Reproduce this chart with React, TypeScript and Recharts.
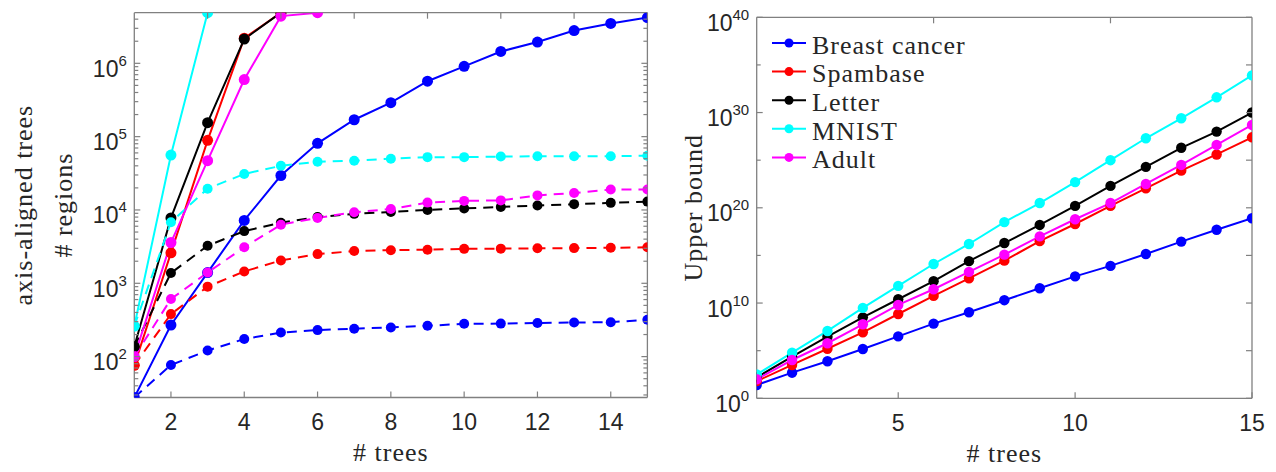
import React from 'react';
import { LineChart, Line, XAxis, YAxis, Legend } from 'recharts';

// # trees on the x axis of both panels
const trees = [1, 2, 3, 4, 5, 6, 7, 8, 9, 10, 11, 12, 13, 14, 15];

// left panel, solid lines (# regions, stops once the count blows up)
const breastSolid = [27.7, 270, 1400, 7200, 29500, 81000, 170000, 290000, 570000, 910000, 1450000, 1950000, 2800000, 3500000, 4200000];
const spamSolid = [76, 2600, 89000, 2200000, 4900000];
const letterSolid = [137, 7800, 155000, 2140000, 4900000];
const mnistSolid = [260, 56000, 4900000];
const adultSolid = [100, 3600, 47000, 600000, 4400000, 4900000];

// left panel, dashed lines
const breastDashed = [27.7, 77, 121, 174, 213, 230, 240, 250, 263, 280, 282, 287, 292, 295, 318];
const spamDashed = [76, 380, 900, 1450, 2050, 2500, 2750, 2830, 2870, 2950, 2970, 3000, 3020, 3050, 3100];
const letterDashed = [137, 1380, 3250, 5150, 6700, 8000, 8850, 9400, 10000, 10500, 11000, 11500, 12000, 12500, 13000];
const mnistDashed = [260, 6800, 19500, 31000, 40000, 45500, 47000, 50000, 52500, 52500, 53500, 54000, 54000, 54000, 55000];
const adultDashed = [100, 610, 1400, 3100, 6300, 7800, 9300, 10300, 12600, 13300, 13500, 15800, 17000, 19000, 19000];

// right panel, upper bound given as powers of ten
const breastBoundExp = [1.4, 2.69, 3.89, 5.18, 6.5, 7.84, 9.03, 10.3, 11.55, 12.8, 13.9, 15.15, 16.45, 17.7, 18.9];
const spamBoundExp = [1.8, 3.5, 5.2, 6.93, 8.85, 10.75, 12.6, 14.45, 16.5, 18.3, 20.2, 22.05, 23.9, 25.6, 27.4];
const letterBoundExp = [2.2, 4.37, 6.47, 8.5, 10.4, 12.3, 14.4, 16.3, 18.2, 20.2, 22.3, 24.3, 26.3, 28.0, 30.0];
const mnistBoundExp = [2.5, 4.79, 7.07, 9.49, 11.8, 14.1, 16.2, 18.5, 20.5, 22.7, 25.0, 27.3, 29.4, 31.6, 33.9];
const adultBoundExp = [2.0, 4.02, 5.78, 7.77, 9.8, 11.45, 13.27, 15.08, 17.0, 18.8, 20.5, 22.5, 24.5, 26.6, 28.7];

const datasetNames = ['Breast cancer', 'Spambase', 'Letter', 'MNIST', 'Adult'];

const leftXTicks = [2, 4, 6, 8, 10, 12, 14];
const rightXTicks = [5, 10, 15];
const leftYMajor = [1e2, 1e3, 1e4, 1e5, 1e6];
const leftYTicks = [30, 40, 50, 60, 70, 80, 90, 100, 200, 300, 400, 500, 600, 700, 800, 900, 1000, 2000, 3000, 4000, 5000, 6000, 7000, 8000, 9000, 1e4, 2e4, 3e4, 4e4, 5e4, 6e4, 7e4, 8e4, 9e4, 1e5, 2e5, 3e5, 4e5, 5e5, 6e5, 7e5, 8e5, 9e5, 1e6, 2e6, 3e6, 4e6];
const rightYTicks = [1, 1e5, 1e10, 1e15, 1e20, 1e25, 1e30, 1e35, 1e40];
const rightYMajor = [1, 1e10, 1e20, 1e30, 1e40];

const BLUE = '#0000ff';
const RED = '#ff0000';
const BLACK = '#000000';
const CYAN = '#00ffff';
const MAGENTA = '#ff00ff';

const AXIS = '#808080';
const INK = '#262626';
const SANS = '"Liberation Sans", Arial, Helvetica, sans-serif';
const SERIF = '"Liberation Serif", "Times New Roman", serif';

const pick = (arr: number[], i: number) => (i < arr.length ? arr[i] : null);

const leftData = trees.map((t, i) => ({
  x: t,
  breastSolid: pick(breastSolid, i),
  breastDashed: pick(breastDashed, i),
  spamSolid: pick(spamSolid, i),
  spamDashed: pick(spamDashed, i),
  letterSolid: pick(letterSolid, i),
  letterDashed: pick(letterDashed, i),
  mnistSolid: pick(mnistSolid, i),
  mnistDashed: pick(mnistDashed, i),
  adultSolid: pick(adultSolid, i),
  adultDashed: pick(adultDashed, i),
}));

const rightData = trees.map((t, i) => ({
  x: t,
  breast: Math.pow(10, breastBoundExp[i]),
  spam: Math.pow(10, spamBoundExp[i]),
  letter: Math.pow(10, letterBoundExp[i]),
  mnist: Math.pow(10, mnistBoundExp[i]),
  adult: Math.pow(10, adultBoundExp[i]),
}));

const PowerLabel = ({ x, y, exp }: any) => (
  <text x={x} y={y + 13.5} textAnchor="end" fontFamily={SANS} fontSize={23} fill={INK}>
    10
    <tspan dy={-11} fontSize={15}>
      {exp}
    </tspan>
  </text>
);

const YTick = (props: any) => {
  const { x, y, payload, side, major } = props;
  const v = payload.value;
  const isMajor = major.includes(v);
  const dir = side === 'left' ? 1 : -1;
  const len = isMajor ? 6 : 4;
  return (
    <g>
      <line x1={x} x2={x + dir * len} y1={y} y2={y} stroke={AXIS} strokeWidth={1.2} />
      {side === 'left' && isMajor && <PowerLabel x={x - 7.5} y={y} exp={Math.round(Math.log10(v))} />}
    </g>
  );
};

const XTick = (props: any) => {
  const { x, y, payload, side } = props;
  const dir = side === 'bottom' ? -1 : 1;
  return (
    <g>
      <line x1={x} x2={x} y1={y} y2={y + dir * 6} stroke={AXIS} strokeWidth={1.2} />
      {side === 'bottom' && (
        <text x={x} y={y + 32.5} textAnchor="middle" fontFamily={SANS} fontSize={23} fill={INK}>
          {payload.value}
        </text>
      )}
    </g>
  );
};

const titleStyle = { fontFamily: SERIF, fontSize: 26, fill: INK, letterSpacing: 1 };

const TreesTitle = ({ viewBox }: any) => (
  <text x={viewBox.x + viewBox.width / 2} y={viewBox.y + 63.5} textAnchor="middle" style={titleStyle}>
    # trees
  </text>
);

const RegionsTitle = ({ viewBox }: any) => {
  const cy = viewBox.y + viewBox.height / 2;
  return (
    <g>
      <text transform={`translate(31.7, ${cy}) rotate(-90)`} textAnchor="middle" style={titleStyle}>
        axis-aligned trees
      </text>
      <text transform={`translate(71.7, ${cy}) rotate(-90)`} textAnchor="middle" style={titleStyle}>
        # regions
      </text>
    </g>
  );
};

const BoundTitle = ({ viewBox }: any) => {
  const cy = viewBox.y + viewBox.height / 2;
  return (
    <text transform={`translate(42, ${cy}) rotate(-90)`} textAnchor="middle" style={titleStyle}>
      Upper bound
    </text>
  );
};

// keep the legend in plotting order (recharts sorts it by name otherwise)
const renderLegend = ({ payload }: any) => {
  const items = [...(payload || [])].sort(
    (a: any, b: any) => datasetNames.indexOf(a.value) - datasetNames.indexOf(b.value)
  );
  return (
    <svg width={200} height={150} style={{ display: 'block' }}>
      {items.map((item: any, i: number) => {
        const cy = 18 + i * 28.6;
        return (
          <g key={item.value}>
            <line x1={2} x2={36} y1={cy} y2={cy} stroke={item.color} strokeWidth={2} />
            <circle cx={19} cy={cy} r={4.5} fill={item.color} />
            <text x={42} y={cy + 10.7} style={titleStyle}>
              {item.value}
            </text>
          </g>
        );
      })}
    </svg>
  );
};

const solidLine = (key: string, color: string) => (
  <Line
    key={key}
    xAxisId="b"
    yAxisId="l"
    dataKey={key}
    stroke={color}
    strokeWidth={2}
    dot={{ r: 5.5, fill: color, stroke: 'none' }}
    activeDot={false}
    isAnimationActive={false}
  />
);

const dashedLine = (key: string, color: string) => (
  <Line
    key={key}
    xAxisId="b"
    yAxisId="l"
    dataKey={key}
    stroke={color}
    strokeWidth={2}
    strokeDasharray="10 7"
    dot={{ r: 5, fill: color, stroke: 'none', strokeDasharray: 'none' }}
    activeDot={false}
    isAnimationActive={false}
  />
);

const boundLine = (key: string, name: string, color: string) => (
  <Line
    key={key}
    xAxisId="b"
    yAxisId="l"
    dataKey={key}
    name={name}
    stroke={color}
    strokeWidth={2}
    dot={{ r: 5.2, fill: color, stroke: 'none' }}
    activeDot={false}
    isAnimationActive={false}
  />
);

const axisLine = { stroke: AXIS, strokeWidth: 1.3 };

export default function App() {
  return (
    <div style={{ position: 'absolute', left: 0, top: 0, width: 1276, height: 472, background: '#fff' }}>
      <div style={{ position: 'absolute', left: 0, top: 0 }}>
        <LineChart width={660} height={472} data={leftData} margin={{ top: 0, right: 0, bottom: 0, left: 0 }}>
          <XAxis
            xAxisId="b"
            dataKey="x"
            type="number"
            domain={[1, 15]}
            allowDataOverflow
            ticks={leftXTicks}
            interval={0}
            height={74.5}
            axisLine={axisLine}
            tickLine={false}
            tickSize={0}
            tickMargin={0}
            tick={(p: any) => <XTick {...p} side="bottom" />}
            label={{ content: (p: any) => <TreesTitle viewBox={p.viewBox} /> }}
          />
          <XAxis
            xAxisId="t"
            orientation="top"
            type="number"
            domain={[1, 15]}
            allowDataOverflow
            ticks={leftXTicks}
            interval={0}
            height={12.7}
            axisLine={axisLine}
            tickLine={false}
            tickSize={0}
            tickMargin={0}
            tick={(p: any) => <XTick {...p} side="top" />}
          />
          <YAxis
            yAxisId="l"
            type="number"
            scale="log"
            domain={[27.7, 4.9e6]}
            allowDataOverflow
            ticks={leftYTicks}
            interval={0}
            width={134.3}
            axisLine={axisLine}
            tickLine={false}
            tickSize={0}
            tickMargin={0}
            tick={(p: any) => <YTick {...p} side="left" major={leftYMajor} />}
            label={{ content: (p: any) => <RegionsTitle viewBox={p.viewBox} /> }}
          />
          <YAxis
            yAxisId="r"
            orientation="right"
            type="number"
            scale="log"
            domain={[27.7, 4.9e6]}
            allowDataOverflow
            ticks={leftYTicks}
            interval={0}
            width={12.6}
            axisLine={axisLine}
            tickLine={false}
            tickSize={0}
            tickMargin={0}
            tick={(p: any) => <YTick {...p} side="right" major={leftYMajor} />}
          />
          {solidLine('breastSolid', BLUE)}
          {dashedLine('breastDashed', BLUE)}
          {solidLine('spamSolid', RED)}
          {dashedLine('spamDashed', RED)}
          {solidLine('letterSolid', BLACK)}
          {dashedLine('letterDashed', BLACK)}
          {solidLine('mnistSolid', CYAN)}
          {dashedLine('mnistDashed', CYAN)}
          {solidLine('adultSolid', MAGENTA)}
          {dashedLine('adultDashed', MAGENTA)}
        </LineChart>
      </div>
      <div style={{ position: 'absolute', left: 660, top: 0 }}>
        <LineChart width={616} height={472} data={rightData} margin={{ top: 0, right: 0, bottom: 0, left: 0 }}>
          <XAxis
            xAxisId="b"
            dataKey="x"
            type="number"
            domain={[1, 15]}
            allowDataOverflow
            ticks={rightXTicks}
            interval={0}
            height={73.7}
            axisLine={axisLine}
            tickLine={false}
            tickSize={0}
            tickMargin={0}
            tick={(p: any) => <XTick {...p} side="bottom" />}
            label={{ content: (p: any) => <TreesTitle viewBox={p.viewBox} /> }}
          />
          <XAxis
            xAxisId="t"
            orientation="top"
            type="number"
            domain={[1, 15]}
            allowDataOverflow
            ticks={rightXTicks}
            interval={0}
            height={17.3}
            axisLine={axisLine}
            tickLine={false}
            tickSize={0}
            tickMargin={0}
            tick={(p: any) => <XTick {...p} side="top" />}
          />
          <YAxis
            yAxisId="l"
            type="number"
            scale="log"
            domain={[1, 1e40]}
            allowDataOverflow
            ticks={rightYTicks}
            interval={0}
            width={96.7}
            axisLine={axisLine}
            tickLine={false}
            tickSize={0}
            tickMargin={0}
            tick={(p: any) => <YTick {...p} side="left" major={rightYMajor} />}
            label={{ content: (p: any) => <BoundTitle viewBox={p.viewBox} /> }}
          />
          <YAxis
            yAxisId="r"
            orientation="right"
            type="number"
            scale="log"
            domain={[1, 1e40]}
            allowDataOverflow
            ticks={rightYTicks}
            interval={0}
            width={24}
            axisLine={axisLine}
            tickLine={false}
            tickSize={0}
            tickMargin={0}
            tick={(p: any) => <YTick {...p} side="right" major={rightYTicks} />}
          />
          <Legend
            layout="vertical"
            align="center"
            verticalAlign="middle"
            content={renderLegend}
            wrapperStyle={{ left: 110, top: 25.3, width: 200, height: 150 }}
          />
          {boundLine('breast', datasetNames[0], BLUE)}
          {boundLine('spam', datasetNames[1], RED)}
          {boundLine('letter', datasetNames[2], BLACK)}
          {boundLine('mnist', datasetNames[3], CYAN)}
          {boundLine('adult', datasetNames[4], MAGENTA)}
        </LineChart>
      </div>
    </div>
  );
}
